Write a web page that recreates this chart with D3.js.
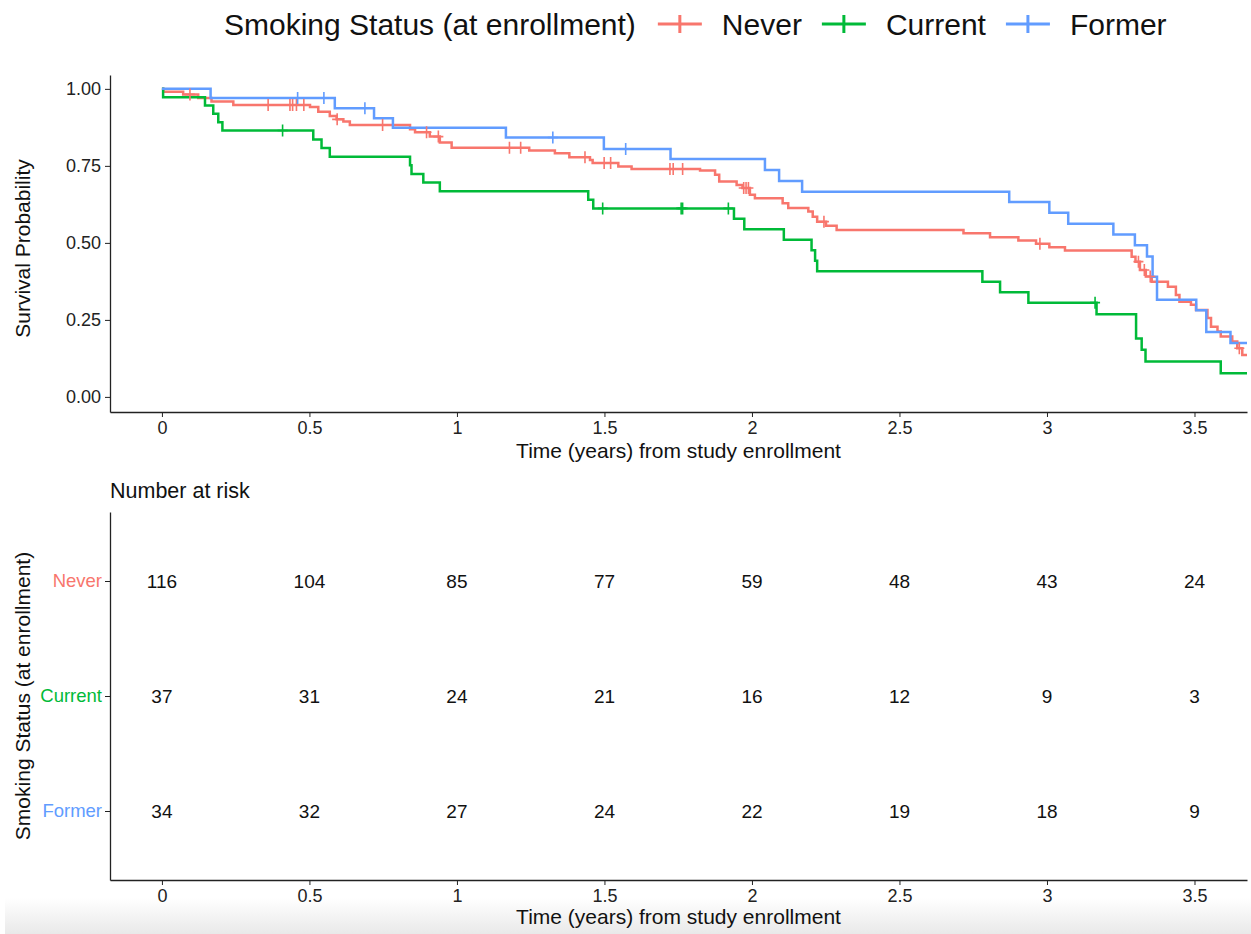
<!DOCTYPE html>
<html>
  <head>
    <meta charset="utf-8">
    <script src="https://d3js.org/d3.v7.min.js"></script>
    <style>
      body { margin: 0; background: white; }
      text { font-family: "Liberation Sans", Arial, Helvetica, sans-serif; }
      .axis path, .axis line { stroke: #222; }
    </style>
  </head>
  <body>
    <div id="chart"></div>
<script>

// groups, in legend / factor order
var groups = ["Never", "Current", "Former"];
var colors = ["#F8766D", "#00BA38", "#619CFF"];

// Kaplan-Meier steps (time in years, survival)
var neverTime = [0, 0.005, 0.072, 0.123, 0.168, 0.242, 0.502, 0.53, 0.569, 0.592, 0.615, 0.637, 0.841, 0.858, 0.908, 0.942, 0.982,
  1.245, 1.332, 1.381, 1.451, 1.46, 1.547, 1.592, 1.824, 1.875, 1.889, 1.948, 1.968, 1.993, 2.01, 2.104, 2.123, 2.191, 2.206,
  2.221, 2.251, 2.287, 2.717, 2.807, 2.903, 2.963, 3.008, 3.061, 3.287, 3.3, 3.315, 3.335, 3.355, 3.41, 3.437, 3.449, 3.488,
  3.505, 3.544, 3.556, 3.578, 3.589, 3.628, 3.645, 3.662, 3.72];
var neverSurv = [1, 0.991, 0.982, 0.97, 0.959, 0.948, 0.941, 0.926, 0.912, 0.901, 0.894, 0.883, 0.869, 0.859, 0.845, 0.826, 0.809,
  0.8, 0.791, 0.778, 0.769, 0.759, 0.748, 0.74, 0.735, 0.721, 0.699, 0.688, 0.678, 0.656, 0.645, 0.629, 0.613, 0.602, 0.585,
  0.569, 0.556, 0.542, 0.531, 0.518, 0.508, 0.497, 0.486, 0.475, 0.455, 0.439, 0.412, 0.391, 0.374, 0.358, 0.331, 0.309, 0.299,
  0.282, 0.256, 0.228, 0.212, 0.196, 0.18, 0.158, 0.136, 0.13];
var neverCensor = [0.095, 0.36, 0.434, 0.443, 0.456, 0.481, 0.594, 0.748, 0.897, 0.937, 1.178, 1.216, 1.434, 1.499, 1.521,
  1.722, 1.733, 1.765, 1.972, 1.98, 1.988, 2.244, 2.976, 3.31, 3.33, 3.35, 3.652];

var currentTime = [0, 0.004, 0.146, 0.174, 0.191, 0.205, 0.513, 0.541, 0.569, 0.841, 0.846, 0.886, 0.942, 1.445, 1.462, 1.939,
  1.974, 2.108, 2.202, 2.214, 2.221, 2.781, 2.841, 2.937, 3.168, 3.302, 3.321, 3.334, 3.589, 3.72];
var currentSurv = [1, 0.973, 0.946, 0.919, 0.892, 0.865, 0.836, 0.808, 0.78, 0.752, 0.724, 0.696, 0.668, 0.64, 0.612, 0.578,
  0.544, 0.51, 0.476, 0.442, 0.408, 0.374, 0.34, 0.306, 0.268, 0.19, 0.153, 0.115, 0.077, 0.077];
var currentCensor = [0.409, 1.494, 1.76, 1.765, 1.92, 3.163];

var formerTime = [0, 0.165, 0.586, 0.719, 0.783, 1.166, 1.498, 1.724, 2.044, 2.092, 2.17, 2.872, 3.008, 3.072, 3.225, 3.298,
  3.339, 3.358, 3.373, 3.506, 3.54, 3.622, 3.72];
var formerSurv = [1, 0.97, 0.937, 0.905, 0.874, 0.842, 0.805, 0.772, 0.737, 0.701, 0.666, 0.633, 0.598, 0.562, 0.527, 0.492,
  0.456, 0.39, 0.315, 0.281, 0.211, 0.175, 0.175];
var formerCensor = [0.46, 0.549, 0.688, 1.325, 1.572];

// number at risk table
var riskTimes = [0, 0.5, 1, 1.5, 2, 2.5, 3, 3.5];
var riskNever = [116, 104, 85, 77, 59, 48, 43, 24];
var riskCurrent = [37, 31, 24, 21, 16, 12, 9, 3];
var riskFormer = [34, 32, 27, 24, 22, 19, 18, 9];

var yTicks = [0, 0.25, 0.5, 0.75, 1];
var xTicks = [0, 0.5, 1, 1.5, 2, 2.5, 3, 3.5];

var curves = [
  {name: "Never", time: neverTime, surv: neverSurv, censor: neverCensor},
  {name: "Current", time: currentTime, surv: currentSurv, censor: currentCensor},
  {name: "Former", time: formerTime, surv: formerSurv, censor: formerCensor}
];
var risk = [riskNever, riskCurrent, riskFormer];

var width = 1251, height = 934;
var left = 110, right = 1247;
var top1 = 75, bottom1 = 412;
var top2 = 512, bottom2 = 880;

var color = d3.scaleOrdinal().domain(groups).range(colors);
var fmtX = d3.format("~g");

var svg = d3.select("#chart").append("svg")
  .attr("width", width)
  .attr("height", height);

// faint grey band at the bottom of the screenshot
var defs = svg.append("defs");
var grad = defs.append("linearGradient").attr("id", "fade").attr("x1", 0).attr("y1", 0).attr("x2", 0).attr("y2", 1);
grad.append("stop").attr("offset", "0%").attr("stop-color", "#ffffff");
grad.append("stop").attr("offset", "100%").attr("stop-color", "#e9e9e9");
svg.append("rect").attr("x", 5).attr("y", 898).attr("width", width - 5).attr("height", height - 898)
  .attr("fill", "url(#fade)");

defs.append("clipPath").attr("id", "clip")
  .append("rect").attr("x", left).attr("y", top1 - 10).attr("width", right - left).attr("height", bottom1 - top1 + 10);

var x = d3.scaleLinear().domain([-0.176, 3.678]).range([left, right]);
var y = d3.scaleLinear().domain([-0.049, 1.045]).range([bottom1, top1]);

function styleAxis(g, size) {
  g.select(".domain").attr("stroke-width", 1.3);
  g.selectAll("text").style("font-size", size).style("fill", "#222");
}

// ---- survival plot ----
var xAxis = svg.append("g")
  .attr("class", "axis")
  .attr("transform", "translate(0," + bottom1 + ")")
  .call(d3.axisBottom(x).tickValues(xTicks).tickFormat(fmtX).tickSize(5).tickPadding(4).tickSizeOuter(0));
styleAxis(xAxis, "18px");

var yAxis = svg.append("g")
  .attr("class", "axis")
  .attr("transform", "translate(" + left + ",0)")
  .call(d3.axisLeft(y).tickValues(yTicks).tickFormat(d3.format(".2f")).tickSize(5).tickPadding(4).tickSizeOuter(0));
styleAxis(yAxis, "18px");

var line = d3.line()
  .x(function(d) { return x(d[0]); })
  .y(function(d) { return y(d[1]); })
  .curve(d3.curveStepAfter);

function survAt(c, t) {
  var i = d3.bisectRight(c.time, t) - 1;
  return c.surv[Math.max(i, 0)];
}

var plot = svg.append("g").attr("clip-path", "url(#clip)");

plot.selectAll(".km")
  .data(curves).enter()
  .append("path")
  .attr("class", "km")
  .attr("fill", "none")
  .attr("stroke", function(d) { return color(d.name); })
  .attr("stroke-width", 2.5)
  .attr("d", function(d) { return line(d.time.map(function(t, i) { return [t, d.surv[i]]; })); });

curves.forEach(function(c) {
  plot.selectAll(null)
    .data(c.censor).enter()
    .append("path")
    .attr("fill", "none")
    .attr("stroke", color(c.name))
    .attr("stroke-width", 1.6)
    .attr("d", function(t) {
      var px = x(t), py = y(survAt(c, t));
      return "M" + (px - 5) + "," + py + "H" + (px + 5) + "M" + px + "," + (py - 6) + "V" + (py + 6);
    });
});

svg.append("text")
  .attr("x", (left + right) / 2).attr("y", 451).attr("dy", "0.35em")
  .attr("text-anchor", "middle").style("font-size", "21px").attr("fill", "#111")
  .text("Time (years) from study enrollment");

svg.append("text")
  .attr("transform", "translate(23," + ((top1 + bottom1) / 2 + 5) + ") rotate(-90)")
  .attr("dy", "0.35em")
  .attr("text-anchor", "middle").style("font-size", "21px").attr("fill", "#111")
  .text("Survival Probability");

// ---- legend ----
var legend = svg.append("g");
var lt = legend.append("text")
  .attr("x", 224).attr("y", 24).attr("dy", "0.35em")
  .style("font-size", "30px").attr("fill", "#111")
  .text("Smoking Status (at enrollment)");
var lx = 224 + lt.node().getComputedTextLength() + 22;
groups.forEach(function(g) {
  legend.append("path")
    .attr("stroke", color(g)).attr("stroke-width", 3).attr("fill", "none")
    .attr("d", "M" + lx + ",24H" + (lx + 44) + "M" + (lx + 22) + ",15V33");
  var t = legend.append("text")
    .attr("x", lx + 64).attr("y", 24).attr("dy", "0.35em")
    .style("font-size", "30px").attr("fill", "#111")
    .text(g);
  lx = lx + 64 + t.node().getComputedTextLength() + 20;
});

// ---- number at risk table ----
var yRow = d3.scalePoint().domain(groups).range([top2, bottom2]).padding(0.6);

var tAxis = svg.append("g")
  .attr("class", "axis")
  .attr("transform", "translate(0," + bottom2 + ")")
  .call(d3.axisBottom(x).tickValues(xTicks).tickFormat(fmtX).tickSize(5).tickPadding(4).tickSizeOuter(0));
styleAxis(tAxis, "18px");

var rAxis = svg.append("g")
  .attr("class", "axis")
  .attr("transform", "translate(" + left + ",0)")
  .call(d3.axisLeft(yRow).tickSize(5).tickPadding(3).tickSizeOuter(0));
styleAxis(rAxis, "18.5px");
rAxis.selectAll("text").style("fill", function(d) { return color(d); });

groups.forEach(function(g, gi) {
  svg.selectAll(null)
    .data(risk[gi]).enter()
    .append("text")
    .attr("x", function(d, i) { return x(riskTimes[i]); })
    .attr("y", yRow(g)).attr("dy", "0.35em")
    .attr("text-anchor", "middle").style("font-size", "19px").attr("fill", "#111")
    .text(function(d) { return d; });
});

svg.append("text")
  .attr("x", left).attr("y", 490).attr("dy", "0.35em")
  .style("font-size", "21.5px").attr("fill", "#111")
  .text("Number at risk");

svg.append("text")
  .attr("x", (left + right) / 2).attr("y", 917).attr("dy", "0.35em")
  .attr("text-anchor", "middle").style("font-size", "21px").attr("fill", "#111")
  .text("Time (years) from study enrollment");

svg.append("text")
  .attr("transform", "translate(23," + ((top2 + bottom2) / 2) + ") rotate(-90)")
  .attr("dy", "0.35em")
  .attr("text-anchor", "middle").style("font-size", "21px").attr("fill", "#111")
  .text("Smoking Status (at enrollment)");

</script>
  </body>
</html>
